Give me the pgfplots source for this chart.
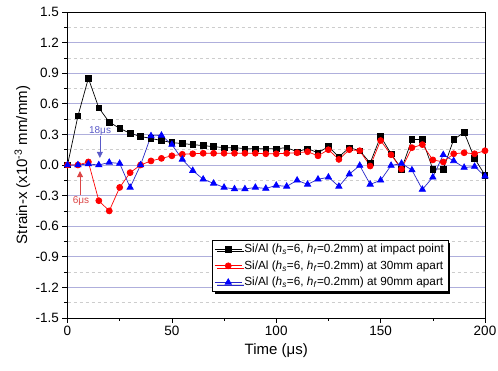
\documentclass[border=0pt]{standalone}
\usepackage{fontspec}
\setmainfont{Liberation Sans}
\usepackage{pgfplots}
\pgfplotsset{compat=1.18}
\usetikzlibrary{arrows.meta,shadows}
\definecolor{majgrid}{RGB}{175,175,220}
\definecolor{mingrid}{RGB}{205,205,205}
\definecolor{ann18}{RGB}{90,90,200}
\definecolor{ann6}{RGB}{220,70,70}
\definecolor{blueline}{RGB}{40,40,200}
\begin{document}
\begin{tikzpicture}[font=\fontsize{13.5}{15}\selectfont]
\begin{axis}[
  scale only axis, width=417.5pt, height=306pt,
  xmin=0, xmax=200, ymin=-1.5, ymax=1.5,
  xtick={0,50,100,150,200}, minor xtick={25,75,125,175},
  ytick={-1.5,-1.2,-0.9,-0.6,-0.3,0,0.3,0.6,0.9,1.2,1.5},
  minor ytick={-1.35,-1.05,-0.75,-0.45,-0.15,0.15,0.45,0.75,1.05,1.35},
  ymajorgrids, yminorgrids,
  major grid style={draw=majgrid, solid, line width=0.8pt},
  minor grid style={draw=mingrid, dashed, line width=0.5pt},
  tick align=outside, xtick pos=bottom, ytick pos=left,
  major tick length=5pt, minor tick length=3pt,
  tick style={black, line width=0.6pt},
  axis line style={line width=0.7pt},
  tick label style={font=\fontsize{13.5}{15}\selectfont},
  /pgf/number format/assume math mode=true,
  yticklabel style={/pgf/number format/.cd, fixed, fixed zerofill, precision=1},
  xlabel={Time (μs)},
  ylabel={Strain-x (x10\textsuperscript{-3} mm/mm)},
  label style={font=\fontsize{15}{17}\selectfont},
  xlabel style={at={(axis description cs:0.5,-0.105)}, anchor=center},
  ylabel style={at={(axis description cs:-0.108,0.5)}, anchor=center},
  legend style={at={(rel axis cs:0.346,0.255)}, anchor=north west,
    font=\fontsize{11.8}{14}\selectfont, draw=black, line width=0.6pt,
    fill=white, drop shadow={shadow xshift=2.5pt, shadow yshift=-2.5pt, fill=black, opacity=1},
    row sep=2.5pt, inner sep=2pt},
  legend image code/.code={\draw[mark repeat=2,mark phase=2,#1] plot coordinates {(0cm,0cm) (0.48cm,0cm) (0.96cm,0cm)};},
  legend cell align=left,
]
\addplot[black, line width=0.7pt, mark=square*, mark size=2.8pt, mark options={solid, fill=black}] coordinates {
(0,0) (5,0.48) (10,0.85) (15,0.56) (20,0.42) (25,0.36) (30,0.31) (35,0.28) (40,0.26) (45,0.24)
(50,0.22) (55,0.21) (60,0.20) (65,0.19) (70,0.18) (75,0.17) (80,0.17) (85,0.16) (90,0.16) (95,0.16)
(100,0.16) (105,0.17) (110,0.13) (115,0.16) (120,0.12) (125,0.18) (130,0.08) (135,0.17) (140,0.14) (145,0.02)
(150,0.28) (155,0.11) (160,-0.04) (165,0.25) (170,0.25) (175,-0.04) (180,-0.04) (185,0.25) (190,0.32) (195,0.065) (200,-0.1)};
\addlegendentry{Si/Al (\textit{h}\textsubscript{\textit{s}}=6, \textit{h}\textsubscript{\textit{f}}=0.2mm) at impact point}
\addplot[red, line width=0.7pt, mark=*, mark size=3pt, mark options={solid, fill=red}] coordinates {
(0,0) (5,0) (10,0.03) (15,-0.35) (20,-0.45) (25,-0.22) (30,-0.075) (35,0.0) (40,0.04) (45,0.065)
(50,0.09) (55,0.105) (60,0.11) (65,0.115) (70,0.115) (75,0.115) (80,0.115) (85,0.115) (90,0.115) (95,0.11)
(100,0.11) (105,0.115) (110,0.12) (115,0.13) (120,0.09) (125,0.15) (130,0.055) (135,0.15) (140,0.14) (145,-0.01)
(150,0.24) (155,0.10) (160,-0.04) (165,0.17) (170,0.20) (175,0.05) (180,0.03) (185,0.11) (190,0.12) (195,0.11) (200,0.14)};
\addlegendentry{Si/Al (\textit{h}\textsubscript{\textit{s}}=6, \textit{h}\textsubscript{\textit{f}}=0.2mm) at 30mm apart}
\addplot[blueline, line width=0.7pt, mark=triangle*, mark size=3.6pt, mark options={solid, fill=blue, draw=blue}] coordinates {
(0,0) (5,0) (10,0.01) (15,0) (20,0.025) (25,0.015) (30,-0.22) (35,0) (40,0.285) (45,0.29)
(50,0.2) (55,0.055) (60,-0.055) (65,-0.14) (70,-0.18) (75,-0.22) (80,-0.235) (85,-0.235) (90,-0.22) (95,-0.23)
(100,-0.2) (105,-0.21) (110,-0.15) (115,-0.19) (120,-0.14) (125,-0.12) (130,-0.21) (135,-0.09) (140,-0.005) (145,-0.19)
(150,-0.15) (155,-0.005) (160,0.015) (165,-0.05) (170,-0.24) (175,-0.12) (180,0.1) (185,0.04) (190,-0.025) (195,-0.015) (200,-0.11)};
\addlegendentry{Si/Al (\textit{h}\textsubscript{\textit{s}}=6, \textit{h}\textsubscript{\textit{f}}=0.2mm) at 90mm apart}
\draw[ann18, line width=0.5pt, -{Triangle[width=6pt,length=6pt]}] (axis cs:15.5,0.28) -- (axis cs:15.5,0.07);
\node[ann18, font=\fontsize{10}{12}\selectfont] at (axis cs:15.6,0.33) {18μs};
\draw[ann6, line width=0.5pt, -{Triangle[width=6pt,length=6pt]}] (axis cs:6,-0.29) -- (axis cs:6,-0.06);
\node[ann6, font=\fontsize{10}{12}\selectfont] at (axis cs:6.5,-0.35) {6μs};
\end{axis}
\pgfresetboundingbox
\path ([shift={(-67.5pt,-53pt)}]current axis.south west) rectangle ([shift={(13pt,12pt)}]current axis.north east);
\end{tikzpicture}
\end{document}
